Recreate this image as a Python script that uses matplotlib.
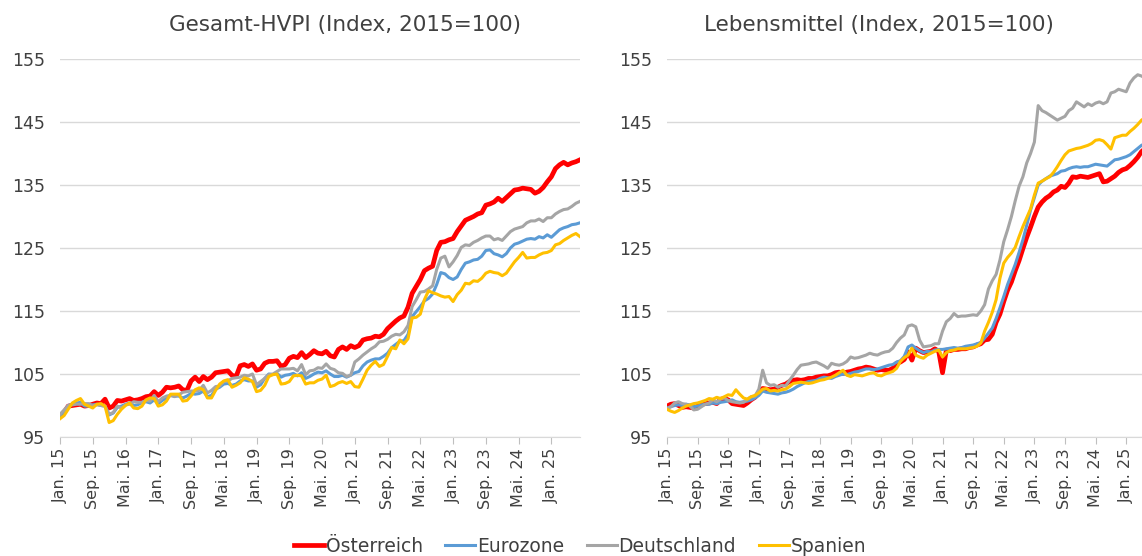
import matplotlib
matplotlib.use("Agg")
import matplotlib.pyplot as plt
import numpy as np


# monthly index values, Jan 2015 - Aug 2025 (2015 = 100)
hvpi_at = [98.2, 98.9, 99.9, 100.0, 100.1, 100.2, 99.9, 100.0, 100.2, 100.4, 100.3, 101.0,
           99.6, 99.9, 100.8, 100.7, 100.9, 101.1, 100.8, 100.9, 101.1, 101.4, 101.5, 102.2,
           101.6, 102.1, 102.9, 102.8, 102.9, 103.1, 102.5, 102.4, 103.9, 104.5, 103.8, 104.6,
           104.1, 104.5, 105.2, 105.3, 105.4, 105.5, 104.8, 104.6, 106.3, 106.5, 106.2, 106.6,
           105.6, 105.8, 106.7, 107.0, 107.0, 107.1, 106.2, 106.5, 107.5, 107.8, 107.6, 108.4,
           107.6, 108.1, 108.7, 108.3, 108.2, 108.6, 107.9, 107.7, 108.9, 109.3, 108.9, 109.5,
           109.2, 109.5, 110.4, 110.6, 110.7, 111.0, 110.9, 111.3, 112.2, 112.8, 113.4, 113.9,
           114.2, 115.6, 117.8, 118.9, 120.0, 121.4, 121.8, 122.1, 124.6, 125.9, 126.0, 126.3,
           126.5, 127.6, 128.5, 129.4, 129.7, 130.0, 130.4, 130.6, 131.8, 132.0, 132.3, 132.9,
           132.4, 133.0, 133.6, 134.2, 134.3, 134.5, 134.4, 134.3, 133.7, 134.0, 134.6, 135.5,
           136.3, 137.6, 138.2, 138.6, 138.2, 138.5, 138.7, 139.0]

hvpi_ez = [98.4, 99.0, 100.0, 100.2, 100.4, 100.5, 99.9, 99.9, 100.1, 100.2, 100.0, 99.9,
           98.5, 98.8, 99.7, 99.9, 100.2, 100.4, 100.0, 100.1, 100.5, 100.6, 100.4, 100.9,
           100.3, 100.8, 101.2, 101.6, 101.5, 101.5, 101.2, 101.5, 101.9, 101.8, 101.9, 102.3,
           101.4, 101.6, 102.6, 102.9, 103.4, 103.5, 103.2, 103.4, 103.9, 104.1, 103.9, 103.9,
           102.9, 103.3, 104.3, 105.0, 104.9, 105.1, 104.5, 104.8, 104.9, 105.1, 104.7, 105.2,
           104.3, 104.6, 105.0, 105.3, 105.2, 105.5, 105.0, 104.6, 104.6, 104.8, 104.5, 104.8,
           105.2, 105.4, 106.3, 106.9, 107.2, 107.4, 107.4, 107.8, 108.3, 109.2, 109.7, 110.2,
           110.3, 111.3, 114.1, 114.9, 115.7, 116.6, 117.0, 117.7, 119.2, 121.1, 120.9, 120.3,
           120.0, 120.4, 121.6, 122.6, 122.8, 123.1, 123.2, 123.7, 124.6, 124.7, 124.1, 123.9,
           123.6, 124.1, 125.0, 125.6, 125.8, 126.1, 126.4, 126.5, 126.4, 126.8, 126.6, 127.1,
           126.7, 127.3, 127.9, 128.2, 128.4, 128.7, 128.8, 129.0]

hvpi_de = [98.6, 99.3, 100.0, 100.1, 100.2, 100.2, 100.3, 100.3, 100.0, 100.1, 100.0, 99.9,
           98.6, 98.9, 99.9, 99.6, 100.1, 100.2, 100.6, 100.5, 100.5, 100.8, 100.7, 101.6,
           100.6, 101.2, 101.5, 101.6, 101.4, 101.7, 102.1, 102.2, 102.3, 102.3, 102.4, 103.2,
           102.0, 102.4, 103.0, 103.1, 103.8, 103.9, 104.3, 104.4, 104.5, 104.8, 104.7, 105.0,
           103.3, 103.8, 104.3, 104.9, 105.0, 105.4, 105.8, 105.8, 105.8, 105.9, 105.5, 106.5,
           104.9, 105.5, 105.6, 106.0, 105.9, 106.6, 105.9, 105.7, 105.2, 105.1, 104.6, 104.8,
           106.9, 107.4, 108.0, 108.5, 109.0, 109.4, 110.1, 110.2, 110.5, 111.0, 111.3, 111.2,
           111.7, 112.7, 115.7, 116.8, 118.0, 118.1, 118.5, 119.0, 121.6, 123.4, 123.7, 122.0,
           122.8, 123.8, 125.1, 125.5, 125.4, 125.9, 126.2, 126.6, 126.9, 126.9, 126.3, 126.5,
           126.2, 126.9, 127.6, 128.0, 128.2, 128.4, 129.0, 129.3, 129.3, 129.6, 129.2, 129.8,
           129.8, 130.4, 130.8, 131.1, 131.2, 131.6, 132.1, 132.4]

hvpi_es = [97.9, 98.4, 99.4, 100.4, 100.8, 101.1, 100.2, 99.9, 99.6, 100.2, 100.3, 99.9,
           97.3, 97.6, 98.6, 99.4, 100.0, 100.4, 99.6, 99.5, 99.9, 100.9, 101.2, 101.1,
           99.9, 100.1, 100.7, 101.8, 101.8, 101.8, 100.7, 100.8, 101.5, 102.5, 102.8, 102.5,
           101.2, 101.2, 102.4, 103.4, 103.9, 104.1, 102.9, 103.2, 103.6, 104.4, 104.2, 103.8,
           102.2, 102.4, 103.2, 104.6, 104.9, 105.0, 103.4, 103.5, 103.8, 104.7, 104.8, 104.7,
           103.4, 103.6, 103.6, 104.0, 104.2, 104.8, 103.0, 103.2, 103.6, 103.8, 103.5, 103.8,
           103.0, 102.9, 104.2, 105.6, 106.4, 107.0, 106.2, 106.5, 107.8, 109.2, 109.0, 110.4,
           109.8, 110.6, 113.9, 114.0, 114.5, 116.8, 118.2, 117.9, 117.7, 117.4, 117.2, 117.3,
           116.5, 117.6, 118.3, 119.4, 119.3, 119.8, 119.7, 120.2, 121.0, 121.3, 121.1, 121.0,
           120.6, 121.0, 121.9, 122.8, 123.5, 124.3, 123.4, 123.5, 123.5, 123.9, 124.2, 124.3,
           124.6, 125.5, 125.7, 126.2, 126.6, 127.0, 127.3, 126.8]

food_at = [99.9, 100.2, 100.3, 100.0, 99.7, 99.8, 99.7, 99.6, 99.9, 100.2, 100.3, 100.4,
           100.5, 100.3, 101.0, 101.1, 100.9, 100.3, 100.2, 100.1, 100.0, 100.4, 100.9, 101.3,
           102.0, 102.7, 102.6, 102.5, 102.6, 102.9, 103.2, 103.4, 103.8, 104.0, 104.1, 104.0,
           104.1, 104.3, 104.3, 104.5, 104.6, 104.7, 104.7, 104.9, 105.2, 105.3, 105.1, 105.3,
           105.4, 105.6, 105.8, 105.9, 106.1, 106.0, 105.8, 105.6, 105.7, 105.6, 105.6, 105.9,
           106.7, 106.9, 107.3, 108.5, 107.2, 109.1, 108.7, 108.4, 108.5, 108.6, 109.0, 108.6,
           105.2, 108.8, 108.7, 108.9, 108.9, 109.0, 109.0, 109.2, 109.3, 109.6, 109.8, 110.4,
           110.5, 111.3, 113.2, 114.5, 116.5, 118.3, 119.6, 121.4, 123.0, 124.9, 126.7, 128.3,
           130.0, 131.5, 132.3, 132.9, 133.3, 133.9, 134.2, 134.8, 134.6, 135.3, 136.3, 136.2,
           136.4, 136.3, 136.2, 136.4, 136.6, 136.8, 135.5, 135.6, 136.0, 136.4, 137.0, 137.4,
           137.6, 138.1, 138.7, 139.4, 140.3, 140.8, 141.2, 141.6]

food_ez = [99.6, 99.8, 100.0, 100.1, 100.0, 100.2, 100.1, 99.8, 99.9, 100.1, 100.2, 100.2,
           100.4, 100.3, 100.5, 100.6, 100.7, 100.9, 100.6, 100.5, 100.6, 100.7, 100.9, 101.2,
           101.6, 102.3, 102.1, 102.0, 101.9, 101.8, 102.0, 102.1, 102.3, 102.6, 103.0, 103.3,
           103.6, 103.8, 103.9, 104.0, 104.3, 104.5, 104.4, 104.3, 104.6, 104.8, 105.0, 104.9,
           105.1, 105.3, 105.4, 105.6, 105.8, 105.8, 105.7, 105.8, 106.0, 106.2, 106.4, 106.5,
           106.9, 107.1, 107.8, 109.3, 109.6, 109.1, 108.7, 108.4, 108.6, 108.5, 108.8, 108.9,
           108.9, 109.0, 109.1, 109.2, 109.1, 109.2, 109.4, 109.5, 109.6, 109.8, 110.0, 110.7,
           111.5, 112.3, 113.8, 115.5, 117.3, 119.2, 120.8, 122.4, 124.3, 126.3, 128.6, 131.0,
           133.0, 135.0, 135.6, 136.0, 136.4, 136.6, 136.8, 137.2, 137.3, 137.6, 137.8, 137.9,
           137.8, 137.9, 137.9, 138.1, 138.3, 138.2, 138.1, 138.0, 138.5, 139.0, 139.1, 139.3,
           139.5, 139.8, 140.3, 140.8, 141.3, 141.6, 141.9, 142.2]

food_de = [99.5, 99.8, 100.4, 100.6, 100.3, 100.2, 99.9, 99.3, 99.4, 99.8, 100.2, 100.4,
           100.9, 100.6, 101.0, 101.2, 100.8, 100.6, 100.5, 100.4, 100.5, 101.0, 101.4, 101.5,
           102.6, 105.6, 103.6, 103.2, 103.3, 102.9, 103.2, 103.1, 104.0, 104.8, 105.7, 106.4,
           106.5, 106.6, 106.8, 106.9, 106.6, 106.3, 105.9, 106.7, 106.5, 106.4, 106.6, 107.0,
           107.7, 107.5, 107.6, 107.8, 108.0, 108.3, 108.1, 108.0, 108.3, 108.5, 108.6, 109.1,
           110.0, 110.7, 111.2, 112.6, 112.8, 112.5, 110.4, 109.3, 109.4, 109.5, 109.8, 109.8,
           111.8, 113.3, 113.8, 114.6, 114.1, 114.2, 114.2, 114.3, 114.4, 114.3, 115.0, 116.0,
           118.5, 119.8, 120.8, 123.1, 126.0, 127.9, 130.0, 132.5, 134.8, 136.3, 138.5, 140.0,
           141.8, 147.6, 146.8, 146.5, 146.1, 145.7, 145.3, 145.6, 145.9, 146.8, 147.2, 148.2,
           147.8, 147.4, 147.9, 147.6, 148.0, 148.2, 147.9, 148.2, 149.6, 149.8, 150.2, 150.0,
           149.8, 151.2, 152.0, 152.5, 152.3, 151.9, 152.2, 152.4]

food_es = [99.4, 99.1, 98.9, 99.2, 99.6, 99.9, 100.1, 100.3, 100.4, 100.6, 100.8, 101.1,
           101.0, 101.3, 101.1, 101.4, 101.7, 101.6, 102.5, 101.8, 101.2, 101.0, 101.4, 101.6,
           102.0, 102.6, 102.7, 102.3, 102.4, 102.3, 102.5, 102.6, 103.0, 103.5, 103.6, 103.7,
           103.6, 103.5, 103.6, 103.8, 104.0, 104.1, 104.3, 104.5, 104.8, 105.2, 105.6, 104.8,
           104.6, 104.9, 104.8, 104.7, 104.9, 105.1, 105.2, 104.8, 104.7, 105.0, 105.2, 105.4,
           105.9, 107.0, 107.6, 108.0, 109.1, 108.0, 107.7, 107.5, 108.0, 108.3, 108.6, 108.8,
           107.7, 108.4, 108.7, 108.8, 109.0, 109.0, 109.0, 109.1, 109.2, 109.4, 109.9, 111.8,
           113.2, 114.8, 116.8, 120.2, 122.6, 123.5, 124.2, 125.1, 126.8, 128.4, 129.8, 131.2,
           133.4, 135.3, 135.6, 136.0, 136.3, 137.0, 137.9, 138.9, 139.8, 140.4, 140.6, 140.8,
           140.9, 141.1, 141.3, 141.6, 142.1, 142.2, 142.0, 141.4, 140.7, 142.5, 142.7, 142.9,
           142.9, 143.5, 144.0, 144.6, 145.3, 145.7, 146.0, 146.3]

countries = ["Österreich", "Eurozone", "Deutschland", "Spanien"]
colors = ["#FF0000", "#5B9BD5", "#A5A5A5", "#FFC000"]
widths = [3.4, 2.2, 2.2, 2.2]

tick_labels = ["Jan. 15", "Sep. 15", "Mai. 16", "Jan. 17", "Sep. 17", "Mai. 18",
               "Jan. 19", "Sep. 19", "Mai. 20", "Jan. 21", "Sep. 21", "Mai. 22",
               "Jan. 23", "Sep. 23", "Mai. 24", "Jan. 25"]

txt = "#404040"

fig = plt.figure(figsize=(11.42, 5.56), dpi=100)
ax1 = fig.add_axes([60 / 1142, 119 / 556, 520 / 1142, 378 / 556])
ax2 = fig.add_axes([667 / 1142, 119 / 556, 486 / 1142, 378 / 556])

panels = [(ax1, [hvpi_at, hvpi_ez, hvpi_de, hvpi_es]),
          (ax2, [food_at, food_ez, food_de, food_es])]

for ax, series in panels:
    for vals, name, c, lw in zip(series, countries, colors, widths):
        x = np.arange(len(vals))
        ax.plot(x, vals, color=c, lw=lw, label=name, solid_joinstyle="round")
    n = len(series[0])
    ax.set_xlim(0, n - 1)
    ax.set_ylim(95, 155)
    ax.set_yticks(range(95, 156, 10))
    ax.set_xticks(np.arange(0, n, 8))
    ax.set_xticklabels(tick_labels, rotation=90)
    ax.grid(axis="y", color="#D9D9D9", lw=1)
    ax.set_axisbelow(True)
    for s in ["top", "right", "left"]:
        ax.spines[s].set_visible(False)
    ax.spines["bottom"].set_color("#D9D9D9")
    ax.tick_params(axis="y", length=0, pad=11, labelsize=12.5, labelcolor=txt)
    ax.tick_params(axis="x", length=5, color="#BFBFBF", pad=3, labelsize=11.5,
                   labelcolor=txt)

fig.text(345 / 1142, 1 - 25 / 556, "Gesamt-HVPI (Index, 2015=100)", ha="center",
         va="center", fontsize=15.5, color=txt)
fig.text(879 / 1142, 1 - 25 / 556, "Lebensmittel (Index, 2015=100)", ha="center",
         va="center", fontsize=15.5, color=txt)

handles, labels = ax1.get_legend_handles_labels()
fig.legend(handles, labels, loc="lower center", bbox_to_anchor=(580 / 1142, -0.03),
           ncol=4, frameon=False, fontsize=13.5, handlelength=1.6, handletextpad=0.1,
           columnspacing=1.2, labelcolor=txt)

fig.savefig("out.png", dpi=100)
